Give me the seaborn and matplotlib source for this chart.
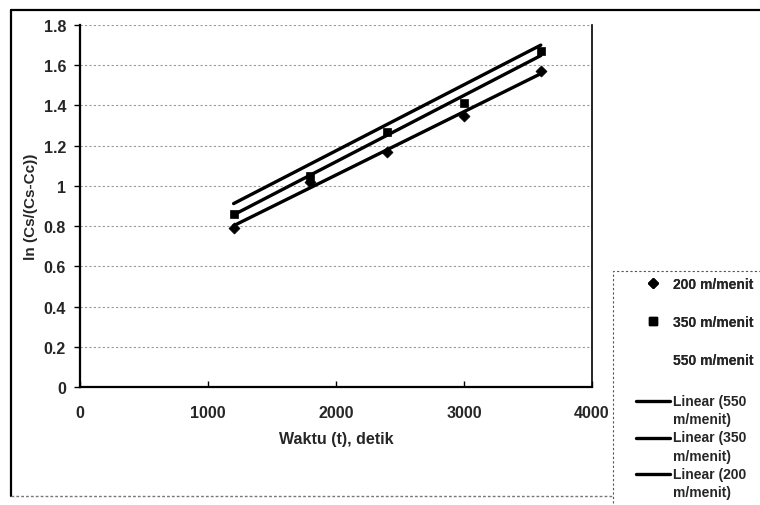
import matplotlib
matplotlib.use("Agg")
import matplotlib.pyplot as plt
import seaborn as sns
import numpy as np
import pandas as pd
from matplotlib.lines import Line2D
from matplotlib.patches import Rectangle
from matplotlib.legend_handler import HandlerLine2D

time_s = [1200, 1800, 2400, 3000, 3600]
y_200 = [0.79, 1.02, 1.17, 1.35, 1.57]
y_350 = [0.86, 1.05, 1.27, 1.41, 1.67]
y_550 = [0.92, 1.09, 1.32, 1.50, 1.70]
series_labels = ["200 m/menit", "350 m/menit", "550 m/menit"]
trend_labels = ["Linear (550\nm/menit)", "Linear (350\nm/menit)", "Linear (200\nm/menit)"]
y_ticks = [0, 0.2, 0.4, 0.6, 0.8, 1, 1.2, 1.4, 1.6, 1.8]
y_tick_labels = ["0", "0.2", "0.4", "0.6", "0.8", "1", "1.2", "1.4", "1.6", "1.8"]
x_ticks = [0, 1000, 2000, 3000, 4000]

sns.set_theme(style="white")
plt.rcParams["font.family"] = ["Liberation Sans", "DejaVu Sans"]

df = pd.DataFrame({
    "t": time_s * 3,
    "y": y_200 + y_350 + y_550,
    "s": [series_labels[0]] * 5 + [series_labels[1]] * 5 + [series_labels[2]] * 5,
})

fig = plt.figure(figsize=(7.6, 5.06), dpi=100)
ax = fig.add_axes([80 / 760, 1 - 388 / 506, (592 - 80) / 760, (388 - 26) / 506])

# regression lines (Excel linear trendlines)
for lab in [series_labels[2], series_labels[1], series_labels[0]]:
    sub = df[df["s"] == lab]
    sns.regplot(data=sub, x="t", y="y", ax=ax, scatter=False, ci=None,
                truncate=True, line_kws=dict(color="black", lw=2.4))

# markers (550 has no marker)
sub200 = df[df["s"] == series_labels[0]]
sub350 = df[df["s"] == series_labels[1]]
sns.scatterplot(data=sub200, x="t", y="y", ax=ax, marker="D", s=32,
                color="black", edgecolor="black", legend=False, zorder=5)
sns.scatterplot(data=sub350, x="t", y="y", ax=ax, marker="s", s=38,
                color="black", edgecolor="black", legend=False, zorder=5)

ax.set_xlim(0, 4000)
ax.set_ylim(0, 1.8)
ax.set_yticks(y_ticks)
ax.set_yticklabels(y_tick_labels)
ax.set_xticks(x_ticks)
ax.tick_params(axis="y", direction="out", length=4, width=1, color="black",
               labelsize=11.5, pad=6, left=True)
ax.tick_params(axis="x", direction="in", length=4, width=1, color="black",
               labelsize=11.5, pad=13, bottom=True)
for lbl in ax.get_xticklabels() + ax.get_yticklabels():
    lbl.set_fontweight("bold")

ax.grid(axis="y", color="#999999", lw=0.8, ls=(0, (2, 2)))
ax.grid(axis="x", visible=False)
for side in ["left", "bottom"]:
    ax.spines[side].set_color("black")
    ax.spines[side].set_linewidth(1.6)
ax.spines["right"].set_color("black")
ax.spines["right"].set_linewidth(1.2)
ax.spines["top"].set_visible(False)

ax.set_xlabel("Waktu (t), detik", fontsize=11.5, fontweight="bold", labelpad=8)
ax.set_ylabel("ln (Cs/(Cs-Cc))", fontsize=11, fontweight="bold", labelpad=4)

# outer chart frame: solid left and top, light dotted bottom
fig.add_artist(Line2D([11 / 760, 11 / 760], [1 - 497 / 506, 1 - 11 / 506],
                      transform=fig.transFigure, color="black", lw=1.6))
fig.add_artist(Line2D([11 / 760, 1.0], [1 - 11 / 506, 1 - 11 / 506],
                      transform=fig.transFigure, color="black", lw=1.6))
fig.add_artist(Line2D([11 / 760, 613 / 760], [1 - 497 / 506, 1 - 497 / 506],
                      transform=fig.transFigure, color="#777777", lw=1.0,
                      ls=(0, (2, 1.5))))
# legend frame
fig.patches.append(Rectangle((613 / 760, -0.05), 0.3, (1 - 272 / 506) + 0.05,
                             transform=fig.transFigure, fill=False,
                             edgecolor="#555555", lw=0.8, ls=(0, (2, 2)), zorder=1))


class RaisedLine(HandlerLine2D):
    def create_artists(self, legend, orig_handle, xdescent, ydescent,
                       width, height, fontsize, trans):
        arts = super().create_artists(legend, orig_handle, xdescent, ydescent,
                                      width, height, fontsize, trans)
        for a in arts:
            a.set_ydata(np.asarray(a.get_ydata()) + 6.8)
        return arts


marker_handles = [
    Line2D([], [], marker="D", color="black", ls="none", markersize=5),
    Line2D([], [], marker="s", color="black", ls="none", markersize=5.5),
    Line2D([], [], marker="none", ls="none"),
]
line_handles = [Line2D([], [], color="black", lw=2.4) for _ in trend_labels]

common = dict(loc="upper left", frameon=False, handlelength=2.45,
              handletextpad=0.2, borderpad=0, borderaxespad=0,
              prop=dict(size=10, weight="bold"))
leg1 = fig.legend(marker_handles, series_labels,
                  bbox_to_anchor=(636 / 760, 1 - 278 / 506),
                  labelspacing=1.72, **common)
leg2 = fig.legend(line_handles, trend_labels,
                  bbox_to_anchor=(636 / 760, 1 - 395 / 506),
                  labelspacing=0.3, handler_map={Line2D: RaisedLine()}, **common)
for t in leg2.get_texts():
    t.set_linespacing(1.38)
fig.add_artist(leg1)

fig.savefig("out.png", dpi=100)
